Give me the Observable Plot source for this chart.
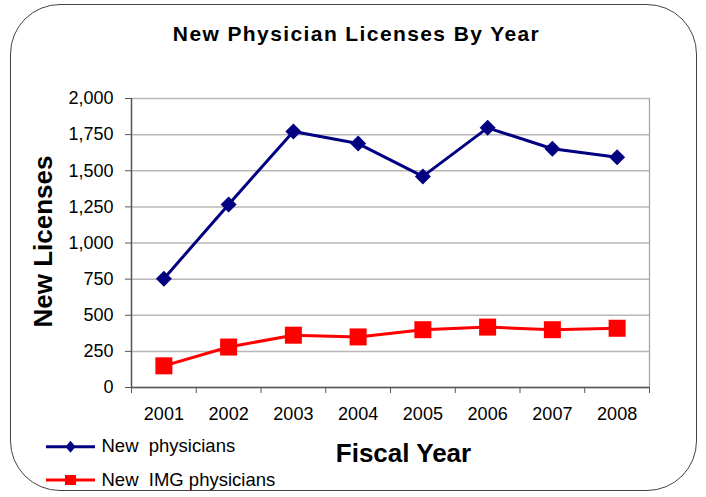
<!DOCTYPE html>
<html>
<head>
<meta charset="utf-8">
<script src="https://cdn.jsdelivr.net/npm/d3@7"></script>
<script src="https://cdn.jsdelivr.net/npm/@observablehq/plot@0.6"></script>
<style>
  html, body { margin: 0; padding: 0; background: #fff; }
  #wrap { position: relative; width: 706px; height: 497px; font-family: "Liberation Sans", Arial, sans-serif; }
  #wrap svg { position: absolute; left: 0; top: 0; }
</style>
</head>
<body>
<div id="wrap"></div>
<script>
const years = [2001, 2002, 2003, 2004, 2005, 2006, 2007, 2008];
const newPhysicians = [753, 1267, 1772, 1688, 1461, 1797, 1652, 1594];
const newIMG = [150, 280, 362, 350, 400, 418, 400, 410];
const yTicks = [0, 250, 500, 750, 1000, 1250, 1500, 1750, 2000];
const seriesNames = ["New  physicians", "New  IMG physicians"];
const titleText = "New Physician Licenses By Year";
const xLabel = "Fiscal Year";
const yLabel = "New Licenses";

const dataA = years.map((y, i) => ({year: y, value: newPhysicians[i]}));
const dataB = years.map((y, i) => ({year: y, value: newIMG[i]}));
const boundaries = [years[0] - 0.5, ...years.map(y => y + 0.5)];

const wrap = document.getElementById("wrap");

// rounded border
const border = document.createElement("div");
border.style.cssText = "position:absolute;left:10px;top:4px;width:687px;height:487px;border:1.5px solid #444;border-radius:50px;box-sizing:border-box;";
wrap.appendChild(border);

const chart = Plot.plot({
  width: 706,
  height: 497,
  marginLeft: 131,
  marginRight: 57,
  marginTop: 98,
  marginBottom: 110,
  style: {fontFamily: "Liberation Sans, Arial, sans-serif", fontSize: "18px", color: "#000", background: "transparent"},
  x: {domain: [years[0] - 0.5, years[years.length - 1] + 0.5]},
  y: {domain: [0, 2000]},
  marks: [
    Plot.gridY(yTicks, {stroke: "#b8b8b8", strokeOpacity: 1, strokeWidth: 1.5}),
    Plot.ruleX([boundaries[boundaries.length - 1]], {stroke: "#a0a0a0", strokeWidth: 1.2}),
    Plot.axisY({ticks: yTicks, tickFormat: d3.format(","), tickSize: 6, tickPadding: 12, stroke: "#555", fontSize: 18, label: null}),
    Plot.axisX({ticks: boundaries, tickFormat: () => "", tickSize: 6, stroke: "#555", label: null}),
    Plot.axisX({ticks: years, tickFormat: d => String(d), tickSize: 0, tickPadding: 20, fontSize: 18, label: null}),
    Plot.ruleX([boundaries[0]], {stroke: "#555", strokeWidth: 1.5}),
    Plot.ruleY([0], {stroke: "#555", strokeWidth: 1.5}),
    Plot.line(dataA, {x: "year", y: "value", stroke: "#000080", strokeWidth: 3}),
    Plot.dot(dataA, {x: "year", y: "value", symbol: "diamond2", r: 7.2, fill: "#000080", stroke: "none"}),
    Plot.line(dataB, {x: "year", y: "value", stroke: "#ff0000", strokeWidth: 3}),
    Plot.dot(dataB, {x: "year", y: "value", symbol: "square", r: 9.6, fill: "#ff0000", stroke: "none"})
  ]
});
wrap.appendChild(chart);

// overlay for titles and legend
const ov = d3.select(wrap).append("svg")
  .attr("width", 706).attr("height", 497)
  .style("font-family", "Liberation Sans, Arial, sans-serif");

ov.append("text").text(titleText)
  .attr("x", 356.5).attr("y", 41).attr("text-anchor", "middle")
  .attr("font-weight", "bold").attr("font-size", 21).attr("letter-spacing", 1.4);

ov.append("text").text(xLabel)
  .attr("x", 403.5).attr("y", 461.5).attr("text-anchor", "middle")
  .attr("font-weight", "bold").attr("font-size", 26);

ov.append("text").text(yLabel)
  .attr("transform", "translate(51.5,241.5) rotate(-90)")
  .attr("text-anchor", "middle")
  .attr("font-weight", "bold").attr("font-size", 26);

const legendItems = [
  {name: seriesNames[0], color: "#000080", symbol: "diamond", cy: 446.7},
  {name: seriesNames[1], color: "#ff0000", symbol: "square", cy: 480}
];
legendItems.forEach(it => {
  const g = ov.append("g").attr("transform", `translate(0,${it.cy})`);
  g.append("line").attr("x1", 46).attr("x2", 95).attr("y1", 0).attr("y2", 0)
    .attr("stroke", it.color).attr("stroke-width", 3);
  if (it.symbol === "diamond") {
    g.append("path").attr("d", "M70.5,-6 L75.5,0 L70.5,6 L65.5,0 Z").attr("fill", it.color);
  } else {
    g.append("path").attr("d", "M65,-5 H76 V5 H65 Z").attr("fill", it.color);
  }
  g.append("text").text(it.name).attr("x", 101.5).attr("y", 5.5)
    .attr("font-size", 18.5).attr("xml:space", "preserve").style("white-space", "pre");
});
</script>
</body>
</html>
